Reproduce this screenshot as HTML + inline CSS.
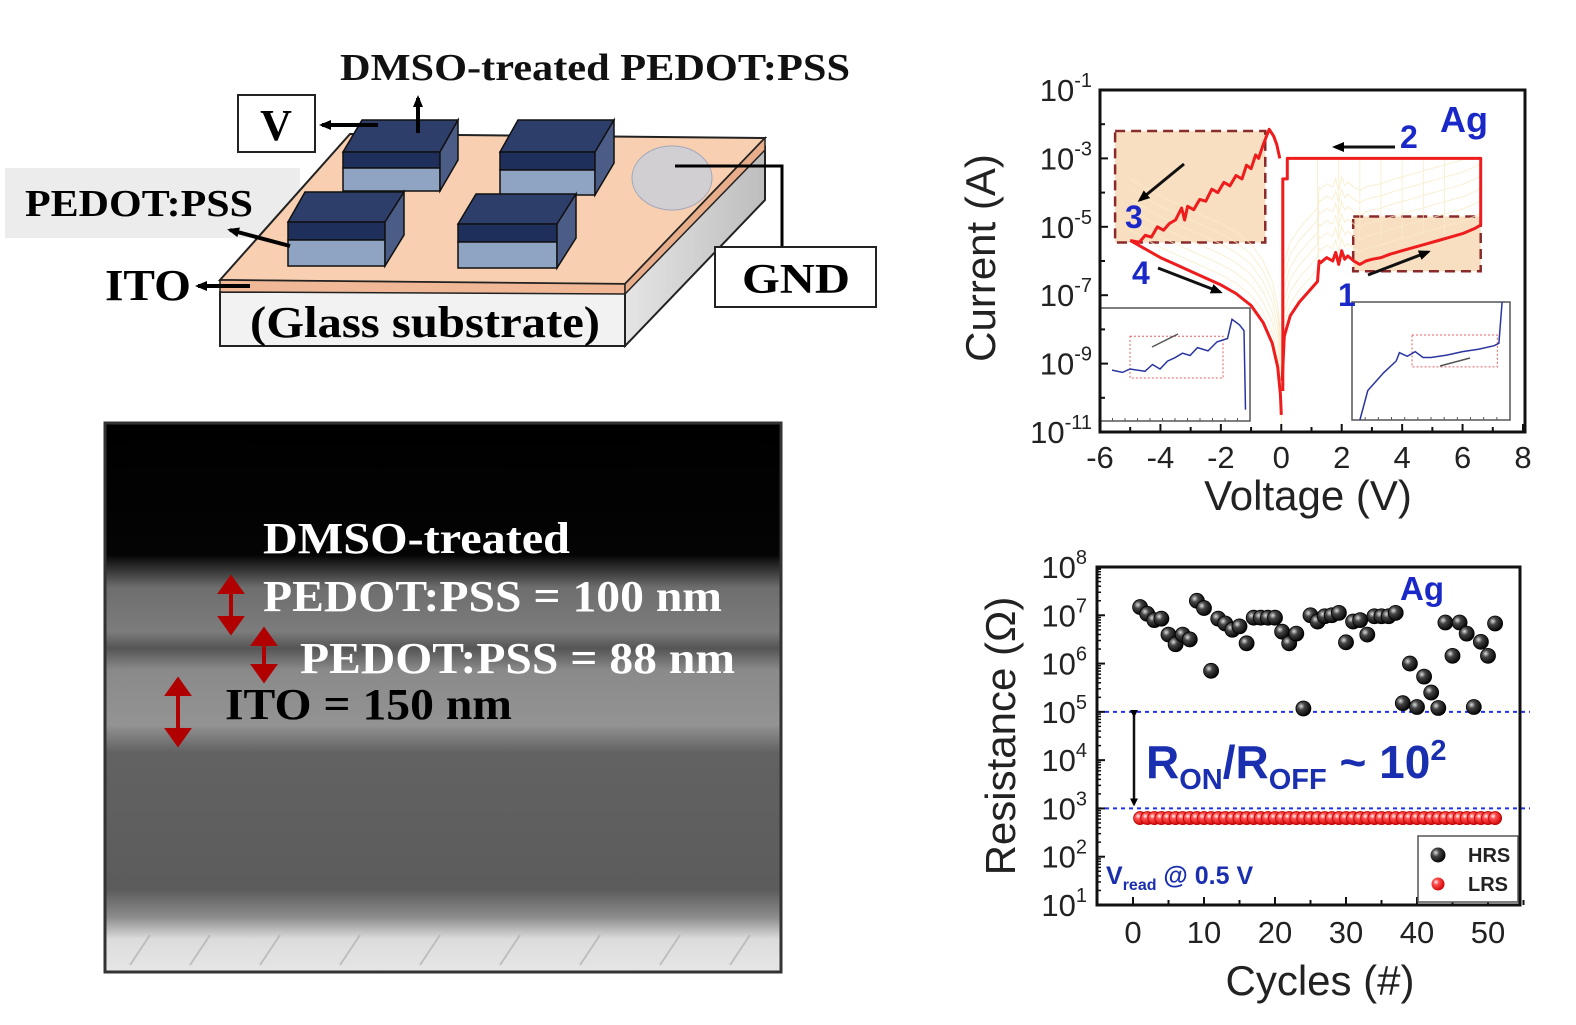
<!DOCTYPE html>
<html><head><meta charset="utf-8">
<style>
html,body{margin:0;padding:0;background:#fff;}
svg{display:block;}
.sf{font-family:"Liberation Serif",serif;font-weight:bold;}
.ss{font-family:"Liberation Sans",sans-serif;}
</style></head>
<body>
<svg id="fig" width="1576" height="1025" viewBox="0 0 1576 1025" xmlns="http://www.w3.org/2000/svg">
<defs>
<linearGradient id="semg" x1="0" y1="0" x2="0" y2="1">
<stop offset="0" stop-color="#000"/>
<stop offset="0.24" stop-color="#040404"/>
<stop offset="0.3" stop-color="#6e6e6e"/>
<stop offset="0.38" stop-color="#7c7c7c"/>
<stop offset="0.41" stop-color="#555"/>
<stop offset="0.45" stop-color="#8a8a8a"/>
<stop offset="0.55" stop-color="#939393"/>
<stop offset="0.6" stop-color="#626262"/>
<stop offset="0.85" stop-color="#5c5c5c"/>
<stop offset="0.9" stop-color="#8c8c8c"/>
<stop offset="0.94" stop-color="#dcdcdc"/>
<stop offset="1" stop-color="#e6e6e6"/>
</linearGradient>
<linearGradient id="sideg" x1="0" y1="0" x2="1" y2="0">
<stop offset="0" stop-color="#e6e6e6"/><stop offset="1" stop-color="#bdbdbd"/>
</linearGradient>
<marker id="ah" markerWidth="8" markerHeight="8" refX="6" refY="4" orient="auto" markerUnits="userSpaceOnUse"><path d="M0,0 L8,4 L0,8 z" fill="#000"/></marker>
<marker id="ahs" markerWidth="12" markerHeight="12" refX="9" refY="6" orient="auto" markerUnits="userSpaceOnUse"><path d="M0,1 L12,6 L0,11 z" fill="#000"/></marker>
</defs>

<!-- ===== Schematic ===== -->
<g>
<rect x="5" y="168" width="295" height="70" fill="#ececec"/>
<polygon points="620,292 765,148 765,200 625,346" fill="url(#sideg)" stroke="#222" stroke-width="2"/>
<rect x="220" y="292" width="405" height="54" fill="#f2f2f2" stroke="#222" stroke-width="2"/>
<polygon points="220,280 350,134 765,138 625,284" fill="#f8cfb0" stroke="#222" stroke-width="2"/>
<polygon points="220,280 625,284 625,294 220,292" fill="#f0b896" stroke="#222" stroke-width="1.5"/>
<polygon points="625,284 765,138 765,150 625,294" fill="#e8ad8a" stroke="#222" stroke-width="1.5"/>
<ellipse cx="672" cy="178" rx="40" ry="32" fill="#c9cfdc" opacity="0.8" stroke="#8a9cc0"/>
<g>
<polygon points="343,152 362,120 458,120 440,152" fill="#2d3e6b" stroke="#111" stroke-width="1.5"/>
<rect x="343" y="152" width="97" height="16" fill="#1f2f5c" stroke="#111" stroke-width="1.5"/>
<rect x="343" y="168" width="97" height="23" fill="#8fa3c2" stroke="#111" stroke-width="1.5"/>
<polygon points="440,152 458,120 458,160 440,191" fill="#4b5d86" stroke="#111" stroke-width="1.5"/>
</g>
<g>
<polygon points="500,152 518,120 614,120 595,152" fill="#2d3e6b" stroke="#111" stroke-width="1.5"/>
<rect x="500" y="152" width="95" height="18" fill="#1f2f5c" stroke="#111" stroke-width="1.5"/>
<rect x="500" y="170" width="95" height="25" fill="#8fa3c2" stroke="#111" stroke-width="1.5"/>
<polygon points="595,152 614,120 614,163 595,195" fill="#4b5d86" stroke="#111" stroke-width="1.5"/>
</g>
<g>
<polygon points="288,222 305,192 404,192 385,222" fill="#2d3e6b" stroke="#111" stroke-width="1.5"/>
<rect x="288" y="222" width="97" height="18" fill="#1f2f5c" stroke="#111" stroke-width="1.5"/>
<rect x="288" y="240" width="97" height="26" fill="#8fa3c2" stroke="#111" stroke-width="1.5"/>
<polygon points="385,222 404,192 404,235 385,266" fill="#4b5d86" stroke="#111" stroke-width="1.5"/>
</g>
<g>
<polygon points="458,224 476,194 576,194 557,224" fill="#2d3e6b" stroke="#111" stroke-width="1.5"/>
<rect x="458" y="224" width="99" height="18" fill="#1f2f5c" stroke="#111" stroke-width="1.5"/>
<rect x="458" y="242" width="99" height="26" fill="#8fa3c2" stroke="#111" stroke-width="1.5"/>
<polygon points="557,224 576,194 576,238 557,268" fill="#4b5d86" stroke="#111" stroke-width="1.5"/>
</g>
<text x="340" y="80" class="sf" font-size="38" fill="#111" textLength="510" lengthAdjust="spacingAndGlyphs">DMSO-treated PEDOT:PSS</text>
<line x1="418" y1="133" x2="418" y2="98" stroke="#000" stroke-width="4" marker-end="url(#ahs)"/>
<rect x="238" y="95" width="77" height="57" fill="#fff" stroke="#222" stroke-width="2"/>
<text x="276" y="140" class="sf" font-size="44" text-anchor="middle">V</text>
<line x1="378" y1="125" x2="322" y2="125" stroke="#000" stroke-width="4" marker-end="url(#ahs)"/>
<text x="25" y="216" class="sf" font-size="38" textLength="228" lengthAdjust="spacingAndGlyphs">PEDOT:PSS</text>
<line x1="290" y1="246" x2="230" y2="230" stroke="#000" stroke-width="4" marker-end="url(#ahs)"/>
<text x="105" y="300" class="sf" font-size="44" textLength="86" lengthAdjust="spacingAndGlyphs">ITO</text>
<line x1="250" y1="286" x2="198" y2="286" stroke="#000" stroke-width="4" marker-end="url(#ahs)"/>
<text x="250" y="337" class="sf" font-size="44" textLength="350" lengthAdjust="spacingAndGlyphs">(Glass substrate)</text>
<polyline points="675,166 782,166 782,247" fill="none" stroke="#000" stroke-width="3"/>
<rect x="715" y="247" width="161" height="60" fill="#fff" stroke="#222" stroke-width="2"/>
<text x="742" y="293" class="sf" font-size="42" textLength="108" lengthAdjust="spacingAndGlyphs">GND</text>
</g>

<!-- ===== SEM ===== -->
<g>
<rect x="105" y="423" width="676" height="549" fill="url(#semg)" stroke="#333" stroke-width="3"/>
<g stroke="#b0b0b0" stroke-width="2" opacity="0.7">
<line x1="130" y1="965" x2="150" y2="935"/><line x1="190" y1="965" x2="210" y2="935"/><line x1="260" y1="965" x2="280" y2="935"/><line x1="340" y1="965" x2="360" y2="935"/><line x1="420" y1="965" x2="440" y2="935"/><line x1="500" y1="965" x2="520" y2="935"/><line x1="580" y1="965" x2="600" y2="935"/><line x1="660" y1="965" x2="680" y2="935"/><line x1="730" y1="965" x2="750" y2="935"/>
</g>
<text x="263" y="553" class="sf" font-size="44" fill="#fff" textLength="307" lengthAdjust="spacingAndGlyphs">DMSO-treated</text>
<text x="263" y="611" class="sf" font-size="44" fill="#fff" textLength="459" lengthAdjust="spacingAndGlyphs">PEDOT:PSS = 100 nm</text>
<text x="300" y="673" class="sf" font-size="44" fill="#fff" textLength="435" lengthAdjust="spacingAndGlyphs">PEDOT:PSS = 88 nm</text>
<text x="225" y="719" class="sf" font-size="44" fill="#000" textLength="287" lengthAdjust="spacingAndGlyphs">ITO = 150 nm</text>
<g fill="#b00000" stroke="#b00000" stroke-width="4">
<line x1="231" y1="588" x2="231" y2="622"/><polygon points="221,592 241,592 231,578"/><polygon points="221,618 241,618 231,632"/>
<line x1="264" y1="640" x2="264" y2="670"/><polygon points="254,644 274,644 264,630"/><polygon points="254,666 274,666 264,680"/>
<line x1="178" y1="690" x2="178" y2="734"/><polygon points="168,694 188,694 178,680"/><polygon points="168,730 188,730 178,744"/>
</g>
</g>

<g id="ivchart"></g>
<g id="rchart"></g>
</svg>

<script>
// ---- I-V chart data (V, log10 I) ----
const ivBranch4V = [-5.0,-4.5,-4.0,-3.5,-3.0,-2.5,-2.0,-1.5,-1.0,-0.6,-0.3,-0.12,-0.03,0.0];
const ivBranch4L = [-5.4,-5.65,-5.9,-6.1,-6.3,-6.5,-6.7,-6.95,-7.3,-7.8,-8.4,-9.1,-9.9,-10.5];
const ivBranch1V = [0.03,0.1,0.3,0.6,0.9,1.1,1.2,1.25,1.3,1.5,1.7,1.8,1.9,2.0,2.1,2.2,2.4,2.6,2.8,3.0,3.3,3.6,4.0,4.4,4.8,5.2,5.6,6.0,6.4,6.6];
const ivBranch1L = [-9.5,-8.2,-7.6,-7.2,-6.9,-6.7,-6.6,-6.0,-6.05,-5.9,-6.0,-5.75,-6.1,-5.7,-5.95,-5.85,-6.0,-6.1,-6.0,-5.95,-5.9,-5.8,-5.7,-5.6,-5.5,-5.4,-5.3,-5.2,-5.05,-4.95];
const ivBranch2V = [6.6,6.6,0.2,0.2,0.05,0.05];
const ivBranch2L = [-4.95,-3.0,-3.0,-3.6,-3.6,-9.8];
const ivBranch3V = [-0.05,-0.15,-0.25,-0.4,-0.6,-0.75,-0.85,-1.0,-1.15,-1.3,-1.5,-1.7,-1.9,-2.1,-2.3,-2.5,-2.7,-2.9,-3.1,-3.2,-3.3,-3.5,-3.7,-3.9,-4.1,-4.3,-4.5,-4.7,-5.0];
const ivBranch3L = [-3.0,-2.6,-2.35,-2.15,-2.6,-3.0,-2.9,-3.3,-3.2,-3.6,-3.5,-3.8,-3.7,-4.0,-3.9,-4.25,-4.2,-4.5,-4.4,-4.8,-4.45,-4.8,-4.9,-5.1,-5.0,-5.3,-5.25,-5.45,-5.4];
const ivXTicks = [-6,-4,-2,0,2,4,6,8];
const ivYTicks = [-1,-3,-5,-7,-9,-11];
const ivBoxLeft = [-5.5,-0.53,-2.2,-5.46];
const ivBoxRight = [2.38,6.6,-4.7,-6.3];

// ---- Resistance chart data ----
const cycles = Array.from({length:51},(_,i)=>i+1);
const hrsLog = [7.17,7.03,6.9,6.93,6.6,6.4,6.6,6.5,7.3,7.15,5.85,6.93,6.83,6.7,6.77,6.42,6.95,6.95,6.95,6.95,6.66,6.42,6.62,5.07,7.0,6.87,6.98,7.0,7.05,6.44,6.87,6.9,6.6,6.98,6.98,6.98,7.05,5.18,6.0,5.1,5.73,5.4,5.08,6.85,6.16,6.85,6.62,5.1,6.45,6.16,6.83];
const lrsLog = Array(51).fill(2.8);
const rXTicks = [0,10,20,30,40,50];
const rYTicks = [8,7,6,5,4,3,2,1];

const NS='http://www.w3.org/2000/svg';
function mk(parent,tag,attrs,text){const e=document.createElementNS(NS,tag);for(const k in attrs)e.setAttribute(k,attrs[k]);if(text!==undefined)e.textContent=text;parent.appendChild(e);return e;}

// ===== I-V chart =====
(function(){
const g=document.getElementById('ivchart');
const L=1100,R=1525,T=90,B=432;
const xs=v=>1100+(v+6)*(1523-1100)/14;
const ys=l=>T+(-1-l)*(B-T)/10;
const b1=mk(g,'rect',{x:xs(ivBoxLeft[0]),y:ys(ivBoxLeft[2]),width:xs(ivBoxLeft[1])-xs(ivBoxLeft[0]),height:ys(ivBoxLeft[3])-ys(ivBoxLeft[2]),fill:'#f9dfc2',stroke:'#8b2a2a','stroke-width':2.5,'stroke-dasharray':'10,6'});


const b2=mk(g,'rect',{x:xs(ivBoxRight[0]),y:ys(ivBoxRight[2]),width:xs(ivBoxRight[1])-xs(ivBoxRight[0]),height:ys(ivBoxRight[3])-ys(ivBoxRight[2]),fill:'#f9dfc2',stroke:'#8b2a2a','stroke-width':2.5,'stroke-dasharray':'10,6'});


const bg=mk(g,'g',{stroke:'#f8ecc8','stroke-width':1,fill:'none',opacity:0.8});


for(let k=0;k<7;k++){
  const off=k*0.3;
  let d='';
  for(let i=0;i<ivBranch4V.length;i++){d+=(i?'L':'M')+xs(ivBranch4V[i])+','+ys(ivBranch4L[i]+off);}
  mk(bg,'path',{d});
  let d2='';
  for(let i=0;i<ivBranch1V.length;i++){d2+=(i?'L':'M')+xs(ivBranch1V[i])+','+ys(Math.min(-3,ivBranch1L[i]+off*1.2));}
  mk(bg,'path',{d:d2});
  const vx=xs(1.2+k*0.7);
  mk(bg,'line',{x1:vx,y1:ys(-3),x2:vx,y2:ys(-5.5+k*0.05)});
}
mk(bg,'line',{x1:xs(0),y1:ys(-9),x2:xs(0),y2:ys(-11)});
function path(vs,ls){let d='';for(let i=0;i<vs.length;i++)d+=(i?'L':'M')+xs(vs[i]).toFixed(1)+','+ys(ls[i]).toFixed(1);return d;}
const red=mk(g,'g',{stroke:'#ee1c1c','stroke-width':3,fill:'none','stroke-linejoin':'round'});


[[ivBranch4V,ivBranch4L],[ivBranch1V,ivBranch1L],[ivBranch2V,ivBranch2L],[ivBranch3V,ivBranch3L]].forEach(p=>mk(red,'path',{d:path(p[0],p[1])}));
mk(red,'path',{d:path([ivBranch3V[ivBranch3V.length-1],ivBranch4V[0]],[ivBranch3L[ivBranch3L.length-1],ivBranch4L[0]])});
function inset(x,y,w,h,name,pts,box){
  const ig=mk(g,'g',{});
  
  
  mk(ig,'rect',{x,y,width:w,height:h,fill:'#fff',stroke:'#555','stroke-width':1.5});
  for(let i=1;i<12;i++)mk(ig,'line',{x1:x+i*w/12,y1:y+h,x2:x+i*w/12,y2:y+h-3,stroke:'#555'});
  mk(ig,'rect',{x:x+box[0]*w,y:y+box[1]*h,width:(box[2]-box[0])*w,height:(box[3]-box[1])*h,fill:'none',stroke:'#e06060','stroke-dasharray':'2,2'});
  mk(ig,'polyline',{points:pts.map(p=>(x+p[0]*w).toFixed(1)+','+(y+p[1]*h).toFixed(1)).join(' '),fill:'none',stroke:'#2a35a0','stroke-width':1.5});
  return ig;
}
const li=inset(1100,308,150,113,'inset-negative',[[0.08,0.55],[0.15,0.57],[0.2,0.54],[0.3,0.56],[0.35,0.5],[0.4,0.54],[0.45,0.47],[0.5,0.44],[0.55,0.4],[0.6,0.42],[0.65,0.35],[0.72,0.38],[0.78,0.3],[0.85,0.27],[0.88,0.1],[0.93,0.15],[0.96,0.2],[0.97,0.9]],[0.2,0.25,0.82,0.62]);
mk(li,'line',{x1:1152,y1:347,x2:1178,y2:334,stroke:'#555','stroke-width':1.5});
const ri=inset(1352,302,158,118,'inset-positive',[[0.05,1.0],[0.1,0.75],[0.2,0.6],[0.28,0.5],[0.3,0.43],[0.35,0.46],[0.4,0.42],[0.45,0.47],[0.5,0.47],[0.6,0.45],[0.7,0.42],[0.8,0.4],[0.9,0.37],[0.93,0.35],[0.95,0.0]],[0.38,0.28,0.92,0.55]);
mk(ri,'line',{x1:1440,y1:366,x2:1470,y2:358,stroke:'#555','stroke-width':1.5});
mk(g,'rect',{x:L,y:T,width:R-L,height:B-T,fill:'none',stroke:'#111','stroke-width':3});
ivXTicks.forEach(v=>{
  const x=xs(v);
  mk(g,'line',{x1:x,y1:B,x2:x,y2:B-8,stroke:'#111','stroke-width':2});
  const t=mk(g,'text',{x:x,y:B+36,'text-anchor':'middle','font-size':31,'class':'ss',fill:'#222'},String(v));
  
  
});
for(let v=-5;v<8;v+=2){const x=xs(v);mk(g,'line',{x1:x,y1:B,x2:x,y2:B-5,stroke:'#111','stroke-width':2});}
for(let l=-11;l<=-1;l++){mk(g,'line',{x1:L,y1:ys(l),x2:L+(l%2?8:5),y2:ys(l),stroke:'#111','stroke-width':2});}
ivYTicks.forEach(l=>{
  const t=mk(g,'text',{x:L-8,y:ys(l)+11,'text-anchor':'end','font-size':31,'class':'ss',fill:'#222'});
  
  
  mk(t,'tspan',{},'10');
  mk(t,'tspan',{'font-size':20,dy:-14},String(l));
});
const xt=mk(g,'text',{x:1308,y:510,'text-anchor':'middle','font-size':42,'class':'ss',fill:'#222'},'Voltage (V)');


const yt=mk(g,'text',{x:0,y:0,transform:'translate(995,258) rotate(-90)','text-anchor':'middle','font-size':42,'class':'ss',fill:'#222'},'Current (A)');


const lab=[['Ag',1440,132,36,'metal-label'],['2',1400,148,32,'step-2-label'],['3',1125,228,32,'step-3-label'],['4',1132,284,32,'step-4-label'],['1',1338,306,32,'step-1-label']];
lab.forEach(a=>{const t=mk(g,'text',{x:a[1],y:a[2],'font-size':a[3],'font-weight':'bold','class':'ss',fill:'#1a28c8'},a[0]);

});
const arr=[[1395,147,1335,147],[1184,164,1140,200],[1158,268,1220,292],[1368,275,1428,252]];
arr.forEach(a=>{const l=mk(g,'line',{x1:a[0],y1:a[1],x2:a[2],y2:a[3],stroke:'#111','stroke-width':3,'marker-end':'url(#ahs)'});

});
})();

// ===== Resistance chart =====
(function(){
const g=document.getElementById('rchart');
const L=1097,R=1520,T=567,B=905;
const xs=c=>1133+c*(1488-1133)/50;
const ys=l=>T+(8-l)*(B-T)/7;
[5,3].forEach(l=>{const d=mk(g,'line',{x1:L,y1:ys(l),x2:1530,y2:ys(l),stroke:'#2233ee','stroke-width':2,'stroke-dasharray':'4,4'});

});
const dg=document.createElementNS(NS,'defs');g.appendChild(dg);
dg.innerHTML='<radialGradient id="bk" cx="0.35" cy="0.35" r="0.7"><stop offset="0" stop-color="#ddd"/><stop offset="0.35" stop-color="#444"/><stop offset="1" stop-color="#000"/></radialGradient><radialGradient id="rd" cx="0.35" cy="0.35" r="0.7"><stop offset="0" stop-color="#fff"/><stop offset="0.3" stop-color="#ff5050"/><stop offset="1" stop-color="#d00000"/></radialGradient>';
cycles.forEach((c,i)=>{
  const p=mk(g,'circle',{cx:xs(c),cy:ys(lrsLog[i]),r:6.5,fill:'url(#rd)',stroke:'#b00','stroke-width':0.8});
  
  
});
cycles.forEach((c,i)=>{
  const p=mk(g,'circle',{cx:xs(c),cy:ys(hrsLog[i]),r:7.5,fill:'url(#bk)',stroke:'#000','stroke-width':0.8});
  
  
});
mk(g,'rect',{x:L,y:T,width:R-L,height:B-T,fill:'none',stroke:'#111','stroke-width':3});
for(let c=-5;c<=55;c+=5){if(c<-2)continue;const x=xs(c);mk(g,'line',{x1:x,y1:B,x2:x,y2:B-(c%10?5:8),stroke:'#111','stroke-width':2});}
rXTicks.forEach(c=>{const t=mk(g,'text',{x:xs(c),y:B+38,'text-anchor':'middle','font-size':31,'class':'ss',fill:'#222'},String(c));

});
rYTicks.forEach(l=>{
  mk(g,'line',{x1:L,y1:ys(l),x2:L+8,y2:ys(l),stroke:'#111','stroke-width':2});
  for(let m=2;m<10;m++){if(l<8){const y=ys(l+Math.log10(m));mk(g,'line',{x1:L,y1:y,x2:L+4,y2:y,stroke:'#111','stroke-width':1.5});}}
  const t=mk(g,'text',{x:L-10,y:ys(l)+11,'text-anchor':'end','font-size':31,'class':'ss',fill:'#222'});
  
  
  mk(t,'tspan',{},'10');
  mk(t,'tspan',{'font-size':20,dy:-14},String(l));
});
const dbl=mk(g,'line',{x1:1134,y1:ys(5)+4,x2:1134,y2:ys(3)-4,stroke:'#111','stroke-width':2.5,'marker-end':'url(#ah)','marker-start':'url(#ah)'});


const rt=mk(g,'text',{x:1146,y:778,'font-size':46,'font-weight':'bold','class':'ss',fill:'#1a2fb0'});


mk(rt,'tspan',{},'R');mk(rt,'tspan',{'font-size':29,dy:11},'ON');mk(rt,'tspan',{dy:-11},'/R');mk(rt,'tspan',{'font-size':29,dy:11},'OFF');mk(rt,'tspan',{dy:-11},' ~ 10');mk(rt,'tspan',{'font-size':29,dy:-18},'2');
const vr=mk(g,'text',{x:1106,y:884,'font-size':25,'font-weight':'bold','class':'ss',fill:'#1a2fb0'});


mk(vr,'tspan',{},'V');mk(vr,'tspan',{'font-size':16,dy:6},'read');mk(vr,'tspan',{dy:-6},' @ 0.5 V');
const ag=mk(g,'text',{x:1400,y:600,'font-size':33,'font-weight':'bold','class':'ss',fill:'#1a28c8'},'Ag');


const lg=mk(g,'g',{});


mk(lg,'rect',{x:1418,y:836,width:100,height:66,fill:'#fff',stroke:'#555','stroke-width':1.5});
mk(lg,'circle',{cx:1438,cy:855,r:7.5,fill:'url(#bk)'});
mk(lg,'circle',{cx:1438,cy:884,r:6.5,fill:'url(#rd)'});
const l1=mk(lg,'text',{x:1468,y:862,'font-size':20,'font-weight':'bold','class':'ss',fill:'#222'},'HRS');


const l2=mk(lg,'text',{x:1468,y:891,'font-size':20,'font-weight':'bold','class':'ss',fill:'#222'},'LRS');


const xt=mk(g,'text',{x:1320,y:995,'text-anchor':'middle','font-size':42,'class':'ss',fill:'#222'},'Cycles (#)');


const yt=mk(g,'text',{x:0,y:0,transform:'translate(1015,736) rotate(-90)','text-anchor':'middle','font-size':42,'class':'ss',fill:'#222'},'Resistance (Ω)');


})();
</script>
</body></html>
